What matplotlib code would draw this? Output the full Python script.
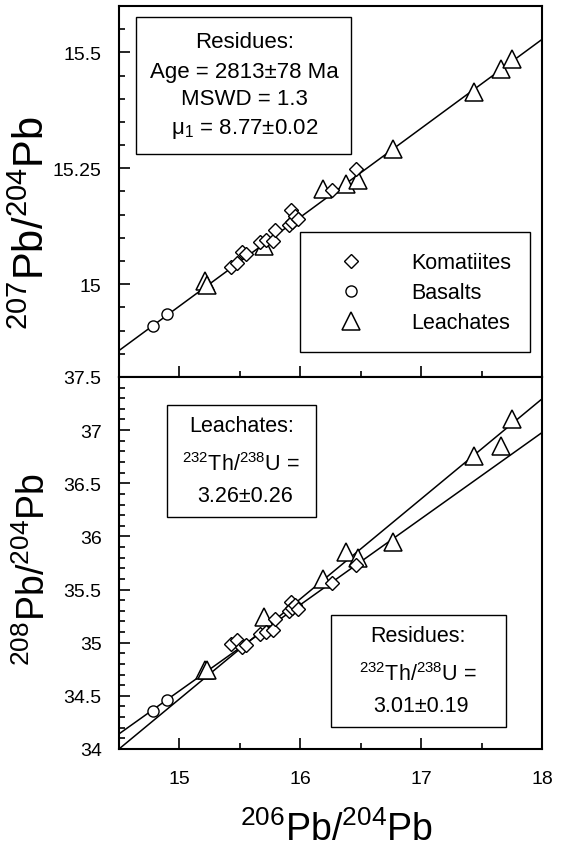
import matplotlib
matplotlib.use('Agg')
import matplotlib.pyplot as plt
from matplotlib import font_manager as fm
from matplotlib.patches import Rectangle
from matplotlib.ticker import MultipleLocator, FuncFormatter

# data (206Pb/204Pb, 207Pb/204Pb, 208Pb/204Pb)
komatiite_206 = [15.43, 15.48, 15.52, 15.55, 15.67, 15.72, 15.77, 15.79, 15.91, 15.92, 15.93, 15.96, 15.98, 16.26, 16.46]
komatiite_207 = [15.037, 15.045, 15.070, 15.065, 15.091, 15.096, 15.093, 15.117, 15.128, 15.160, 15.134, 15.148, 15.141, 15.204, 15.249]
komatiite_208 = [34.99, 35.03, 34.96, 34.98, 35.08, 35.10, 35.12, 35.22, 35.30, 35.38, 35.33, 35.35, 35.32, 35.56, 35.73]

basalt_206 = [14.78, 14.90]
basalt_207 = [14.911, 14.936]
basalt_208 = [34.36, 34.46]

leachate_206 = [15.21, 15.23, 15.70, 16.19, 16.38, 16.48, 16.77, 17.44, 17.66, 17.75]
leachate_207 = [15.008, 14.998, 15.083, 15.206, 15.217, 15.225, 15.292, 15.415, 15.465, 15.486]
leachate_208 = [34.74, 34.74, 35.24, 35.60, 35.85, 35.80, 35.95, 36.76, 36.85, 37.10]

# regression lines (end points at the plot edges)
fit_206 = [14.5, 18.0]
residue_207_fit = [14.857, 15.528]
leachate_208_fit = [34.00, 37.294]
residue_208_fit = [34.142, 36.977]

names = {f.name for f in fm.fontManager.ttflist}
REG = 'Liberation Sans' if 'Liberation Sans' in names else 'DejaVu Sans'
NARROW = 'Liberation Sans Narrow' if 'Liberation Sans Narrow' in names else REG

plt.rcParams['font.family'] = [REG, 'DejaVu Sans']
plt.rcParams['mathtext.fontset'] = 'custom'
plt.rcParams['mathtext.rm'] = REG
plt.rcParams['mathtext.default'] = 'regular'

fig = plt.figure(figsize=(5.63, 8.54), dpi=100)
ax1 = fig.add_axes([0.2114, 0.5574, 0.7513, 0.4344])
ax2 = fig.add_axes([0.2114, 0.1218, 0.7513, 0.4356])

dia = dict(ls='none', marker='D', ms=6.7, mfc='white', mec='black', mew=1.0)
cir = dict(ls='none', marker='o', ms=8, mfc='white', mec='black', mew=1.0)
tri = dict(ls='none', marker='^', ms=13, mfc='white', mec='black', mew=1.1)

# top panel
ax1.plot(fit_206, residue_207_fit, color='black', lw=1.1, zorder=1)
h3, = ax1.plot(leachate_206, leachate_207, label='Leachates', **tri)
h1, = ax1.plot(komatiite_206, komatiite_207, label='Komatiites', **dia)
h2, = ax1.plot(basalt_206, basalt_207, label='Basalts', **cir)

# bottom panel
ax2.plot(fit_206, leachate_208_fit, color='black', lw=1.1, zorder=1)
ax2.plot(fit_206, residue_208_fit, color='black', lw=1.1, zorder=1)
ax2.plot(leachate_206, leachate_208, **tri)
ax2.plot(komatiite_206, komatiite_208, **dia)
ax2.plot(basalt_206, basalt_208, **cir)

fmt = FuncFormatter(lambda v, p: '%g' % v)
for ax in (ax1, ax2):
    ax.set_xlim(14.5, 18)
    ax.xaxis.set_major_locator(MultipleLocator(1))
    ax.xaxis.set_minor_locator(MultipleLocator(0.5))
    ax.xaxis.set_major_formatter(fmt)
    ax.yaxis.set_major_formatter(fmt)
    ax.tick_params(which='both', direction='in', top=False, right=False, width=1.2)
    ax.tick_params(which='major', length=8)
    ax.tick_params(which='minor', length=4)
    ax.tick_params(axis='y', which='major', pad=12.5, labelsize=14)
    ax.tick_params(axis='x', which='major', pad=15, labelsize=14)
    for s in ax.spines.values():
        s.set_linewidth(1.5)
    for lab in ax.get_xticklabels() + ax.get_yticklabels():
        lab.set_family(NARROW)

ax1.set_ylim(14.8, 15.6)
ax1.yaxis.set_major_locator(MultipleLocator(0.25))
ax1.yaxis.set_minor_locator(MultipleLocator(0.05))
ax1.tick_params(labelbottom=False)

ax2.set_ylim(34, 37.5)
ax2.yaxis.set_major_locator(MultipleLocator(0.5))
ax2.yaxis.set_minor_locator(MultipleLocator(0.1))

# text boxes
box = dict(fill=False, edgecolor='black', lw=1.0, zorder=5)
ax1.add_patch(Rectangle((0.041, 0.600), 0.508, 0.370, transform=ax1.transAxes, **box))
for y, s in [(0.904, 'Residues:'), (0.823, 'Age = 2813\u00b178 Ma'),
             (0.751, 'MSWD = 1.3'), (0.670, '\u03bc$_1$ = 8.77\u00b10.02')]:
    ax1.text(0.297, y, s, transform=ax1.transAxes, ha='center', va='center', fontsize=16)

ax1.add_patch(Rectangle((0.428, 0.067), 0.544, 0.323, transform=ax1.transAxes, **box))
ax1.legend(handles=[h1, h2, h3], loc='upper left', bbox_to_anchor=(0.524, 0.336),
           frameon=False, fontsize=15.5, borderpad=0, borderaxespad=0,
           handlelength=1.0, handletextpad=2.3, labelspacing=0.42)

ax2.add_patch(Rectangle((0.114, 0.6245), 0.352, 0.301, transform=ax2.transAxes, **box))
ax2.text(0.289, 0.869, 'Leachates:', transform=ax2.transAxes, ha='center', va='center', fontsize=15.5)
ax2.text(0.289, 0.766, '$^{232}$Th/$^{238}$U =', transform=ax2.transAxes, ha='center', va='center', fontsize=15.5)
ax2.text(0.297, 0.681, '3.26\u00b10.26', transform=ax2.transAxes, ha='center', va='center', fontsize=15.5)

ax2.add_patch(Rectangle((0.500, 0.058), 0.415, 0.302, transform=ax2.transAxes, **box))
ax2.text(0.706, 0.305, 'Residues:', transform=ax2.transAxes, ha='center', va='center', fontsize=15.5)
ax2.text(0.706, 0.202, '$^{232}$Th/$^{238}$U =', transform=ax2.transAxes, ha='center', va='center', fontsize=15.5)
ax2.text(0.714, 0.116, '3.01\u00b10.19', transform=ax2.transAxes, ha='center', va='center', fontsize=15.5)

# axis titles
fig.text(0.058, 0.7389, '$^{207}$Pb/$^{204}$Pb', rotation=90, ha='center', va='center', fontsize=30)
fig.text(0.0604, 0.3337, '$^{208}$Pb/$^{204}$Pb', rotation=90, ha='center', va='center',
         fontsize=27, family=NARROW)
fig.text(0.598, 0.0281, '$^{206}$Pb/$^{204}$Pb', ha='center', va='center', fontsize=27, family=NARROW)

fig.savefig('out.png', dpi=100, facecolor='white')
